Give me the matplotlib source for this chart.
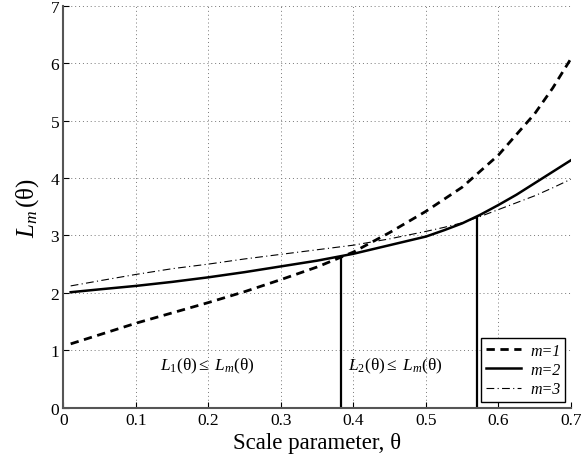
import matplotlib
matplotlib.use('Agg')
import matplotlib.pyplot as plt
import numpy as np

plt.rcParams['font.family'] = ['Liberation Serif', 'DejaVu Serif']
plt.rcParams['mathtext.fontset'] = 'custom'
plt.rcParams['mathtext.rm'] = 'Liberation Serif'
plt.rcParams['mathtext.it'] = 'Liberation Serif:italic'

# values
theta = [0.01, 0.05, 0.1, 0.15, 0.2, 0.25, 0.3, 0.35, 0.4, 0.45, 0.5,
         0.525, 0.55, 0.575, 0.6, 0.625, 0.65, 0.675, 0.7]
L_m1 = [1.11, 1.27, 1.47, 1.65, 1.83, 2.02, 2.23, 2.45, 2.71, 3.05, 3.42,
        3.63, 3.84, 4.12, 4.40, 4.76, 5.12, 5.57, 6.08]
L_m2 = [2.01, 2.06, 2.12, 2.19, 2.27, 2.36, 2.46, 2.56, 2.68, 2.83, 2.98,
        3.09, 3.21, 3.36, 3.53, 3.71, 3.91, 4.11, 4.31]
L_m3 = [2.12, 2.21, 2.32, 2.42, 2.50, 2.59, 2.67, 2.75, 2.83, 2.94, 3.07,
        3.14, 3.22, 3.33, 3.45, 3.57, 3.69, 3.83, 3.98]

# switch points (theta, top of the vertical line)
switch_theta = [0.383, 0.57]
switch_L = [2.62, 3.33]

fig = plt.figure(figsize=(5.82, 4.56), dpi=100)
ax = fig.add_axes([0.109, 0.104, 0.872, 0.881])

ax.plot(theta, L_m1, color='k', lw=2.0, ls=(0, (3, 2)), label='m=1')
ax.plot(theta, L_m2, color='k', lw=1.8, ls='-', label='m=2')
ax.plot(theta, L_m3, color='k', lw=0.8, ls=(0, (7, 3, 1, 3)), label='m=3')

ax.vlines(switch_theta, 0, switch_L, color='k', lw=1.6)

ax.text(0.198, 0.73, r'$L_1(\mathrm{\theta}) \leq \ L_m(\mathrm{\theta})$',
        ha='center', va='center', fontsize=12.5)
ax.text(0.458, 0.73, r'$L_2(\mathrm{\theta}) \leq \ L_m(\mathrm{\theta})$',
        ha='center', va='center', fontsize=12.5)

ax.set_xlim(0, 0.7)
ax.set_ylim(0, 7)
ax.set_xticks(np.arange(0, 0.71, 0.1))
ax.set_xticklabels(['0', '0.1', '0.2', '0.3', '0.4', '0.5', '0.6', '0.7'])
ax.set_yticks(range(0, 8))

ax.grid(True, ls=(0, (1, 3)), color='#777777', lw=0.7)
for s in ['top', 'right']:
    ax.spines[s].set_visible(False)
for s in ['left', 'bottom']:
    ax.spines[s].set_color('#555555')
    ax.spines[s].set_linewidth(1.5)
ax.tick_params(direction='in', length=4, labelsize=12.5, color='k', pad=3)

ax.set_xlabel('Scale parameter, θ', fontsize=16.5, labelpad=3)
ax.set_ylabel(r'$L_m\,(\mathrm{\theta})$', fontsize=18, labelpad=7)

leg = ax.legend(loc='lower right', bbox_to_anchor=(0.989, 0.014), borderaxespad=0,
                fancybox=False, edgecolor='k', framealpha=1,
                prop={'style': 'italic', 'size': 11.5},
                handlelength=2.2, borderpad=0.3, labelspacing=0.2, handletextpad=0.6)
leg.get_frame().set_linewidth(1.0)

fig.savefig('out.png', dpi=100)
